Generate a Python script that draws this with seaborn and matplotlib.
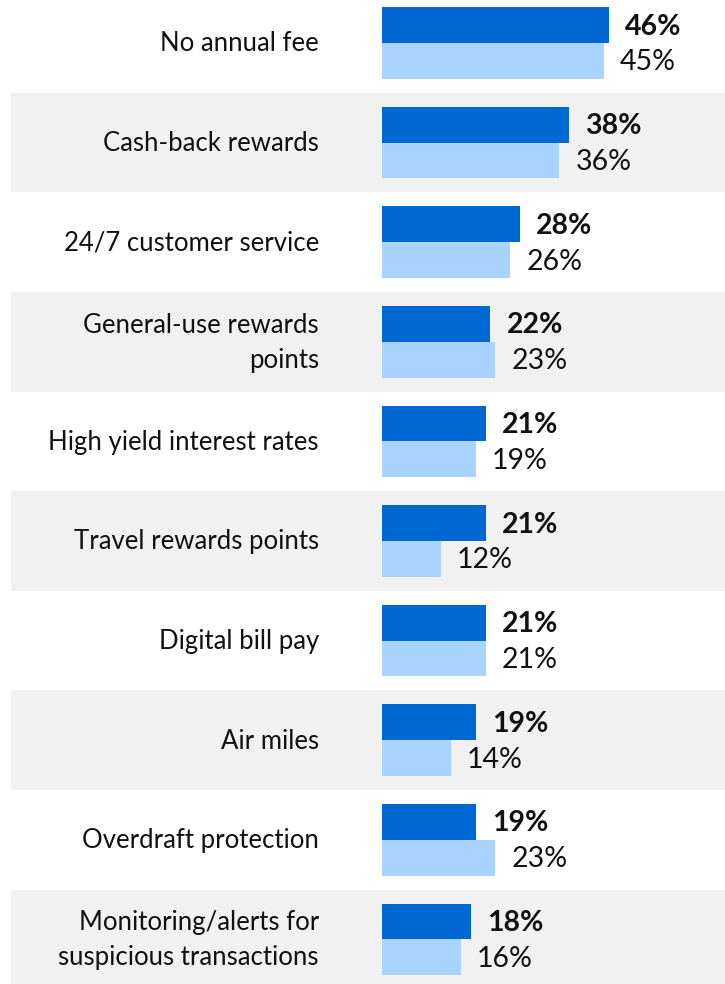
import matplotlib
matplotlib.use("Agg")
import matplotlib.pyplot as plt
import seaborn as sns
import pandas as pd

features = [
    "No annual fee",
    "Cash-back rewards",
    "24/7 customer service",
    "General-use rewards\npoints",
    "High yield interest rates",
    "Travel rewards points",
    "Digital bill pay",
    "Air miles",
    "Overdraft protection",
    "Monitoring/alerts for\nsuspicious transactions",
]
series_names = ["Current", "Previous"]
current = [46, 38, 28, 22, 21, 21, 21, 19, 19, 18]
previous = [45, 36, 26, 23, 19, 12, 21, 14, 23, 16]

dark_blue = "#0068D2"
light_blue = "#A8D4FF"
band_gray = "#F1F1F1"

df = pd.DataFrame({
    "feature": features * 2,
    "series": [series_names[0]] * len(features) + [series_names[1]] * len(features),
    "value": current + previous,
})

sns.set_theme(style="white")
plt.rcParams["font.family"] = ["Lato", "DejaVu Sans"]

W, H = 725, 984
fig = plt.figure(figsize=(W / 100, H / 100), dpi=100)
ax = fig.add_axes([0, 0, 1, 1])

# pixel layout helpers
x0_px = 382.0        # where the bars start
px_per_pct = 4.93
row0_px = 43.0       # centre of first row
row_px = 99.6        # row pitch

sns.barplot(
    data=df, y="feature", x="value", hue="series", orient="h",
    palette=[dark_blue, light_blue], width=0.72, ax=ax, legend=False,
    saturation=1, linewidth=0,
)

ax.set_xlim(-x0_px / px_per_pct, (W - x0_px) / px_per_pct)
ax.set_ylim(9 + (H - (row0_px + 9 * row_px)) / row_px, -row0_px / row_px)

# alternating grey bands behind every second row
band_left = (11 - x0_px) / px_per_pct
for i in range(len(features)):
    if i % 2 == 1:
        ax.fill_between([band_left, ax.get_xlim()[1]], i - 0.5, i + 0.5,
                        color=band_gray, zorder=0, linewidth=0)

for p in ax.patches:
    p.set_zorder(2)

# category labels, right aligned
label_x = (319 - x0_px) / px_per_pct
for i, name in enumerate(features):
    ax.text(label_x, i + 0.01, name, ha="right", va="center", fontsize=18.5,
            color="#111111", linespacing=1.5)

# value labels next to bars
off = 16 / px_per_pct
for i in range(len(features)):
    ax.text(current[i] + off, i - 0.18 + 0.015, f"{current[i]}%", ha="left", va="center",
            fontsize=20.5, fontweight="bold", color="#111111")
    ax.text(previous[i] + off, i + 0.18 + 0.015, f"{previous[i]}%", ha="left", va="center",
            fontsize=20.5, color="#111111")

ax.set_axis_off()
fig.savefig("out.png", dpi=100)
